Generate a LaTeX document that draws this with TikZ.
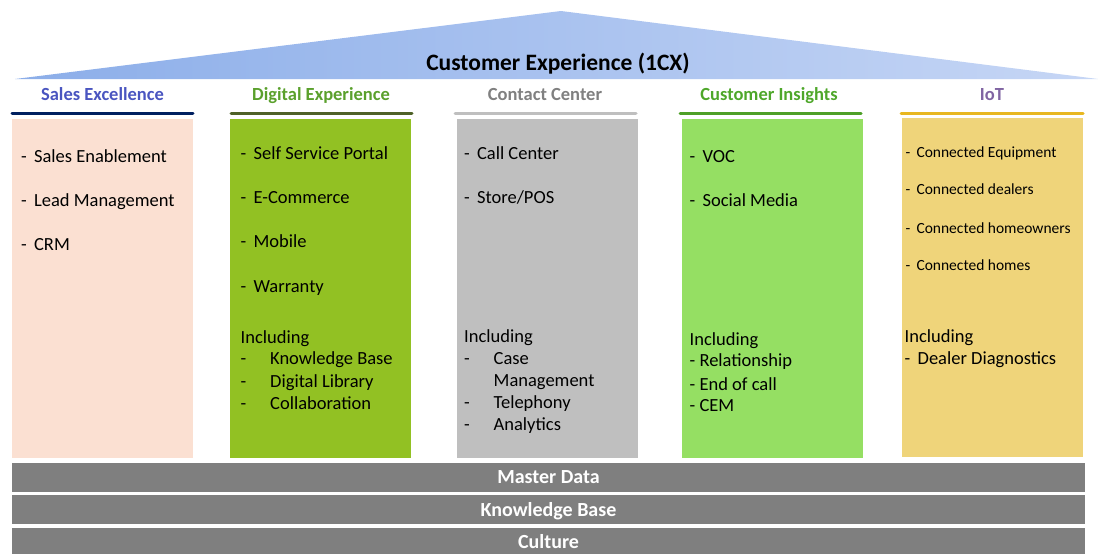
\documentclass[tikz,border=0pt]{standalone}
\usepackage{fontspec}
\setmainfont{Carlito}
\usepackage{xcolor}

\newcommand{\dashitem}[1]{\makebox[29.5pt][l]{-}#1}

\begin{document}
\begin{tikzpicture}[x=1pt,y=1pt,yscale=-1,xscale=1,
  item/.style={anchor=base west,inner sep=0pt,font=\fontsize{18.5}{22}\selectfont},
  smallitem/.style={anchor=base west,inner sep=0pt,font=\fontsize{15.5}{18}\selectfont},
  head/.style={anchor=base,inner sep=0pt,font=\bfseries\fontsize{18.5}{22}\selectfont},
  rule/.style={line width=3pt,line cap=round},
  bar/.style={fill={rgb,255:red,127;green,127;blue,127},text=white,inner sep=0pt,text depth=0pt,
    font=\bfseries\fontsize{20}{24}\selectfont,minimum width=1073pt,minimum height=29pt}]
\useasboundingbox (0,0) rectangle (1098,554);

%Shape: Triangle (roof)
\shade [left color={rgb,255:red,140;green,174;blue,233},right color={rgb,255:red,198;green,214;blue,245}] (15,79) -- (561,11) -- (1098,79) -- cycle ;
% Text Node
\node [anchor=base,inner sep=0pt,font=\bfseries\fontsize{23.5}{28}\selectfont] (title) at (558,70) {Customer Experience (1CX)};

%Column headers
\node [head,text={rgb,255:red,74;green,85;blue,192}] (hsales) at (102.5,100.7) {Sales Excellence};
\node [head,text={rgb,255:red,90;green,160;blue,44}] (hdigital) at (321,100.7) {Digital Experience};
\node [head,text={rgb,255:red,128;green,128;blue,128}] (hcontact) at (545,100.7) {Contact Center};
\node [head,text={rgb,255:red,78;green,167;blue,42}] (hinsights) at (769,100.7) {Customer Insights};
\node [head,text={rgb,255:red,128;green,100;blue,162}] (hiot) at (992,100.7) {IoT};

%Straight Lines (underlines)
\draw [rule,color={rgb,255:red,0;green,32;blue,96}] (12,113.3) -- (193,113.3) ;
\draw [rule,color={rgb,255:red,79;green,98;blue,40}] (231,113.3) -- (412,113.3) ;
\draw [rule,color={rgb,255:red,191;green,191;blue,191}] (455,113.3) -- (636,113.3) ;
\draw [rule,color={rgb,255:red,78;green,160;blue,40}] (680,113.3) -- (861,113.3) ;
\draw [rule,color={rgb,255:red,232;green,183;blue,32}] (901,113.3) -- (1083,113.3) ;

%Shape: Rectangle (columns)
\fill [color={rgb,255:red,251;green,224;blue,210}] (12,119) rectangle (193,458) ;
\fill [color={rgb,255:red,146;green,193;blue,35}] (230,119) rectangle (411,458) ;
\fill [color={rgb,255:red,191;green,191;blue,191}] (457,119) rectangle (638,458) ;
\fill [color={rgb,255:red,149;green,223;blue,99}] (682,119) rectangle (863,458) ;
\fill [color={rgb,255:red,239;green,212;blue,122}] (902,118) rectangle (1083,457) ;

% Text Node - Sales Excellence
\node [item] (s1) at (21,162.3) {-\, Sales Enablement};
\node [item] (s2) at (21,206.7) {-\, Lead Management};
\node [item] (s3) at (21,250.3) {-\, CRM};

% Text Node - Digital Experience
\node [item] (d1) at (240.5,159.3) {-\, Self Service Portal};
\node [item] (d2) at (240.5,203.3) {-\, E-Commerce};
\node [item] (d3) at (240.5,247.7) {-\, Mobile};
\node [item] (d4) at (240.5,292) {-\, Warranty};
\node [item] (dinc) at (240.5,343.3) {Including};
\node [item] (d5) at (240.5,364.7) {\dashitem{Knowledge Base}};
\node [item] (d6) at (240.5,387.7) {\dashitem{Digital Library}};
\node [item] (d7) at (240.5,409.3) {\dashitem{Collaboration}};

% Text Node - Contact Center
\node [item] (c1) at (464,159.3) {-\, Call Center};
\node [item] (c2) at (464,203.3) {-\, Store/POS};
\node [item] (cinc) at (464,342.3) {Including};
\node [item] (c3) at (464,364.3) {\dashitem{Case}};
\node [item] (c3b) at (493.5,386.7) {Management};
\node [item] (c4) at (464,408.3) {\dashitem{Telephony}};
\node [item] (c5) at (464,430.7) {\dashitem{Analytics}};

% Text Node - Customer Insights
\node [item] (i1) at (689.5,162.3) {-\, VOC};
\node [item] (i2) at (689.5,206.7) {-\, Social Media};
\node [item] (iinc) at (689.5,345.7) {Including};
\node [item] (i3) at (689.5,366.7) {- Relationship};
\node [item] (i4) at (689.5,390) {- End of call};
\node [item] (i5) at (689.5,411.7) {- CEM};

% Text Node - IoT
\node [smallitem] (t1) at (905.5,157.3) {- \,Connected Equipment};
\node [smallitem] (t2) at (905.5,194) {- \,Connected dealers};
\node [smallitem] (t3) at (905.5,233.3) {- \,Connected homeowners};
\node [smallitem] (t4) at (905.5,270) {- \,Connected homes};
\node [item] (tinc) at (904.5,342.3) {Including};
\node [item] (t5) at (904.5,364.3) {-\, Dealer Diagnostics};

%Shape: Rectangle (foundation bars)
\node [bar] (master) at (548.5,477.5) {Master Data};
\node [bar] (knowledge) at (548.5,509.8) {Knowledge Base};
\node [bar,minimum height=27pt] (culture) at (548.5,541.5) {Culture};

\end{tikzpicture}
\end{document}
